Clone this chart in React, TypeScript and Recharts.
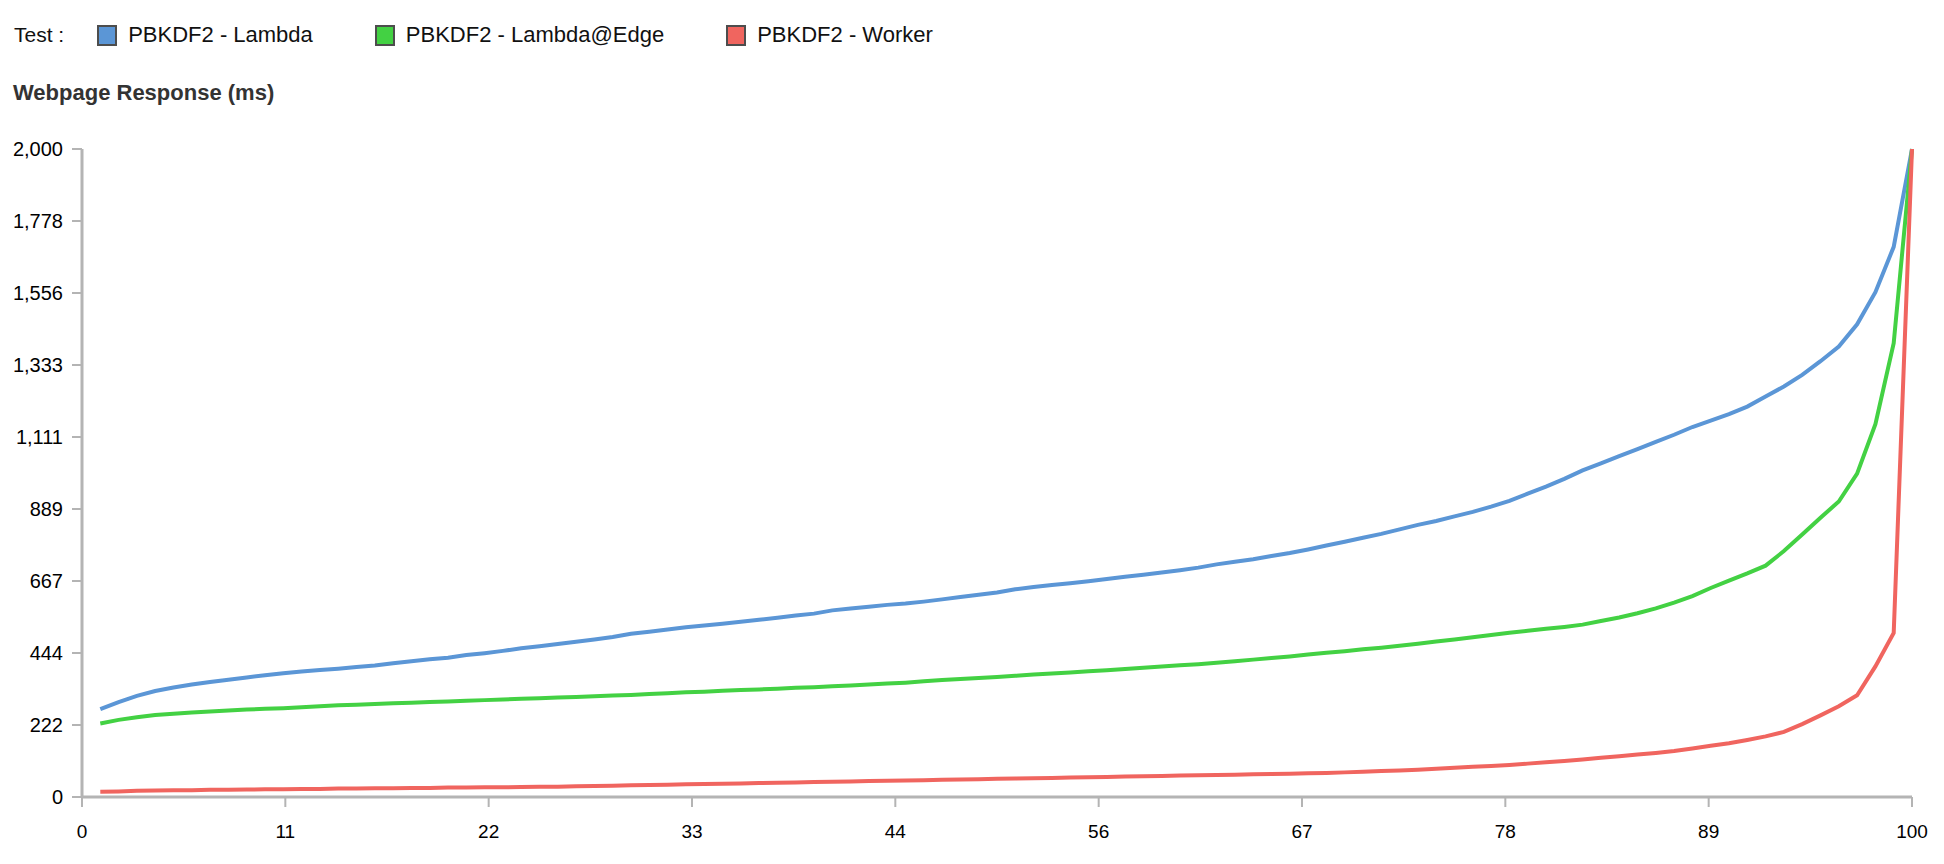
import React from "react";
import { LineChart, Line, XAxis, YAxis } from "recharts";

// percentile position along the x axis
const percentiles = [
  1, 2, 3, 4, 5, 6, 7, 8, 9, 10, 11, 12, 13, 14, 15, 16, 17, 18, 19, 20,
  21, 22, 23, 24, 25, 26, 27, 28, 29, 30, 31, 32, 33, 34, 35, 36, 37, 38, 39, 40,
  41, 42, 43, 44, 45, 46, 47, 48, 49, 50, 51, 52, 53, 54, 55, 56, 57, 58, 59, 60,
  61, 62, 63, 64, 65, 66, 67, 68, 69, 70, 71, 72, 73, 74, 75, 76, 77, 78, 79, 80,
  81, 82, 83, 84, 85, 86, 87, 88, 89, 90, 91, 92, 93, 94, 95, 96, 97, 98, 99, 100,
];

const lambda = [
  271, 293, 312, 327, 338, 347, 355, 362, 369, 376, 382, 387, 392, 396, 401, 406, 413, 419, 425, 430,
  438, 444, 451, 459, 465, 472, 479, 486, 494, 504, 510, 517, 524, 529, 535, 541, 547, 553, 560, 566,
  576, 582, 587, 593, 597, 603, 610, 617, 624, 631, 641, 648, 654, 660, 666, 673, 680, 686, 693, 700,
  708, 718, 726, 734, 744, 753, 764, 776, 788, 800, 812, 826, 840, 852, 866, 880, 896, 914, 936, 958,
  982, 1008, 1030, 1052, 1074, 1096, 1118, 1142, 1162, 1182, 1205, 1236, 1267, 1303, 1345, 1390, 1459, 1558, 1698, 2000,
];

const lambdaEdge = [
  227, 238, 246, 253, 257, 261, 264, 267, 270, 272, 274, 277, 280, 283, 285, 287, 289, 291, 293, 295,
  297, 299, 301, 303, 305, 307, 309, 311, 313, 315, 318, 320, 323, 325, 328, 330, 332, 334, 337, 339,
  342, 344, 347, 350, 353, 357, 361, 364, 367, 370, 374, 378, 381, 384, 388, 391, 395, 399, 403, 407,
  410, 414, 419, 424, 429, 434, 440, 445, 450, 456, 461, 467, 473, 480, 486, 493, 500, 507, 513, 519,
  525, 532, 543, 554, 567, 582, 600, 620, 645, 668, 690, 714, 759, 810, 862, 912, 998, 1151, 1401, 2000,
];

const worker = [
  16, 17, 19, 20, 21, 21, 22, 22, 23, 24, 24, 25, 25, 26, 26, 27, 27, 28, 28, 29,
  29, 30, 30, 31, 32, 32, 33, 34, 35, 36, 37, 38, 39, 40, 41, 42, 43, 44, 45, 46,
  47, 48, 49, 50, 51, 52, 53, 54, 55, 56, 57, 58, 59, 60, 61, 62, 63, 64, 65, 66,
  67, 68, 69, 70, 71, 72, 73, 74, 76, 78, 80, 82, 84, 87, 90, 93, 96, 99, 103, 107,
  111, 116, 121, 126, 131, 136, 142, 150, 158, 166, 176, 187, 201, 225, 252, 280, 314, 403, 506, 2000,
];

const xTicks = [0, 11.111, 22.222, 33.333, 44.444, 55.556, 66.667, 77.778, 88.889, 100];
const yTicks = [0, 222.222, 444.444, 666.667, 888.889, 1111.111, 1333.333, 1555.556, 1777.778, 2000];

const seriesNames = ["PBKDF2 - Lambda", "PBKDF2 - Lambda@Edge", "PBKDF2 - Worker"];
const seriesKeys = ["lambda", "edge", "worker"];
const seriesColors = ["#5b96d6", "#43d143", "#f0655f"];

const data = percentiles.map((p, i) => ({
  x: p,
  lambda: lambda[i],
  edge: lambdaEdge[i],
  worker: worker[i],
}));

const font = "'Liberation Sans', Arial, Helvetica, sans-serif";
const axisGray = "#b4b4b4";

export default function App() {
  return (
    <div
      style={{
        position: "absolute",
        left: 0,
        top: 0,
        width: 1944,
        height: 864,
        background: "#fff",
        fontFamily: font,
      }}
    >
      <div
        style={{
          position: "absolute",
          left: 14,
          top: 22,
          display: "flex",
          alignItems: "center",
          fontSize: 22,
          color: "#111",
        }}
      >
        <span style={{ marginRight: 33, fontSize: 21 }}>Test :</span>
        {seriesNames.map((name, i) => (
          <span
            key={name}
            style={{ display: "flex", alignItems: "center", marginRight: 62 }}
          >
            <span
              style={{
                display: "inline-block",
                width: 16,
                height: 17,
                background: seriesColors[i],
                border: "2.5px solid #4d4d4d",
                marginRight: 11,
              }}
            />
            {name}
          </span>
        ))}
      </div>
      <div
        style={{
          position: "absolute",
          left: 13,
          top: 80,
          fontSize: 22,
          fontWeight: "bold",
          color: "#333",
        }}
      >
        Webpage Response (ms)
      </div>
      <div style={{ position: "absolute", left: 0, top: 0 }}>
        <LineChart
          width={1944}
          height={864}
          data={data}
          margin={{ top: 149, right: 32, bottom: 7, left: 0 }}
        >
          <XAxis
            type="number"
            dataKey="x"
            domain={[0, 100]}
            ticks={xTicks}
            interval={0}
            tickFormatter={(v: number) => String(Math.round(v))}
            height={60}
            tickSize={10}
            tickMargin={18}
            axisLine={{ stroke: axisGray, strokeWidth: 3 }}
            tickLine={{ stroke: axisGray, strokeWidth: 2 }}
            tick={{ fill: "#000", fontSize: 19, fontFamily: font }}
          />
          <YAxis
            type="number"
            domain={[0, 2000]}
            ticks={yTicks}
            interval={0}
            tickFormatter={(v: number) => Math.round(v).toLocaleString("en-US")}
            width={82}
            tickSize={10}
            tickMargin={9}
            axisLine={{ stroke: axisGray, strokeWidth: 3 }}
            tickLine={{ stroke: axisGray, strokeWidth: 2 }}
            tick={{ fill: "#000", fontSize: 20, fontFamily: font }}
          />
          {seriesKeys.map((key, i) => (
            <Line
              key={key}
              type="linear"
              dataKey={key}
              name={seriesNames[i]}
              stroke={seriesColors[i]}
              strokeWidth={4}
              dot={false}
              activeDot={false}
              isAnimationActive={false}
            />
          ))}
        </LineChart>
      </div>
    </div>
  );
}
